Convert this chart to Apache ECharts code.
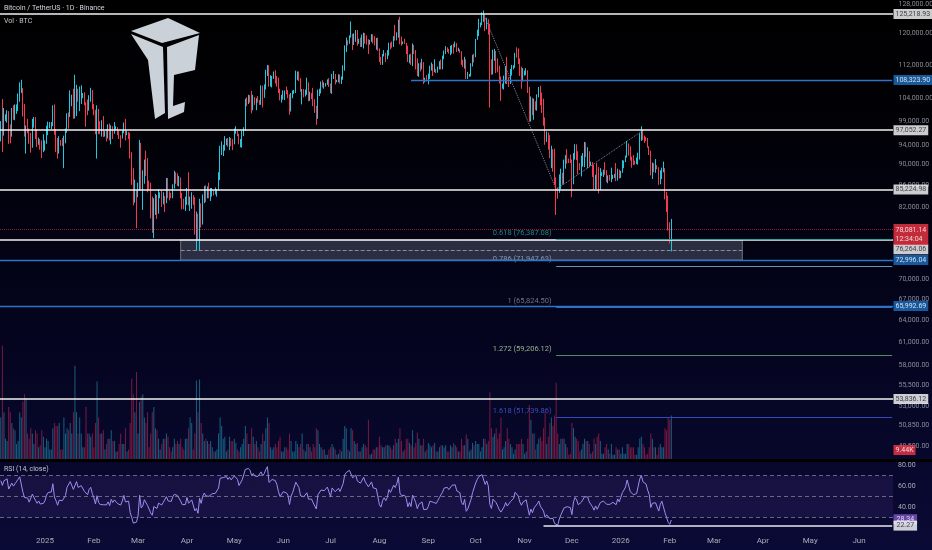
<!DOCTYPE html>
<html><head><meta charset="utf-8">
<script src="https://cdn.jsdelivr.net/npm/echarts@6/dist/echarts.min.js"></script>
<style>
html,body{margin:0;padding:0;width:932px;height:550px;overflow:hidden;background:linear-gradient(to bottom,#000000 0%,#010107 25%,#04041e 60%,#0a0a36 100%);}
#c{width:932px;height:550px;}
</style></head><body><div id="c"></div>
<script>
// ---------- DATA (prices in thousands USD, volumes in thousands BTC) ----------
const startDate = [2024, 11, 4];          // first category: 2024-12-04
const totalDays = 566;                     // categories through late Jun 2026
const preCloses = [90.5,92.3,94.3,98.3,98.9,97.7,98.0,93.0,91.9,95.9,95.6,97.4,96.4,97.2,95.8,96.0];
const closes = [
98.7,97.0,99.9,99.9,101.1,97.4,96.6,101.2,100.0,101.4,101.4,104.3,106.1,106.1,100.2,97.5,97.8,97.3,95.2,94.9,98.7,99.4,95.8,94.2,95.2,93.6,92.8,93.6,
94.6,97.0,98.1,98.2,98.3,102.2,96.9,95.0,92.5,94.7,94.6,94.5,94.5,96.5,100.5,99.9,104.1,104.6,101.3,102.3,106.1,103.7,104.0,104.7,104.8,102.6,102.1,101.3,103.7,104.7,102.4,
100.6,97.7,101.3,97.8,96.6,96.6,96.5,96.5,96.4,97.4,95.8,97.9,96.6,97.5,97.6,96.1,95.8,95.5,96.6,98.3,96.1,96.6,96.3,91.6,88.7,84.3,84.7,84.4,
86.1,94.3,86.1,87.2,90.6,89.9,86.7,86.2,80.7,78.5,82.9,83.7,81.1,84.0,84.3,82.6,84.0,82.7,86.8,84.2,84.0,83.8,86.1,87.5,87.4,86.9,87.2,84.4,82.6,82.3,82.5,
85.2,82.5,83.1,83.8,83.5,78.4,79.2,76.3,82.6,79.6,83.4,85.3,83.7,84.5,83.6,84.0,84.9,84.4,85.1,85.2,87.5,93.4,93.7,93.9,94.6,94.6,93.8,95.0,94.3,94.2,
96.5,96.9,95.9,94.3,94.7,96.8,97.0,103.2,102.9,104.6,104.1,102.8,104.1,103.5,103.7,103.5,103.1,106.5,105.6,106.8,109.6,111.7,107.3,107.8,109.0,109.4,108.9,107.8,105.6,103.9,104.6,
105.7,105.8,105.4,104.7,101.5,104.3,105.6,105.7,110.3,110.3,108.6,105.7,106.1,105.4,105.6,106.8,104.6,104.9,104.6,103.3,102.1,100.9,105.4,105.9,107.3,106.9,107.1,107.3,108.4,107.1,
105.7,108.8,109.6,107.9,108.2,109.2,108.3,108.9,111.3,115.9,117.5,117.4,119.1,119.8,117.7,118.8,119.3,117.8,117.9,117.3,117.4,119.9,118.8,118.4,117.6,117.9,119.4,118.0,117.8,117.8,115.8,
113.3,112.5,114.2,115.0,114.1,115.0,117.5,116.7,116.5,119.3,118.7,120.2,123.3,118.3,117.4,117.5,117.4,116.3,112.9,114.3,112.5,116.9,115.4,113.5,110.1,111.8,111.3,112.6,108.4,108.8,108.2,
109.3,111.2,111.7,110.7,110.7,110.2,111.1,112.1,111.5,113.9,115.5,116.1,115.9,115.3,115.4,116.8,116.5,117.1,115.7,115.7,115.3,112.7,112.0,113.3,109.0,109.6,109.6,112.1,114.4,114.0,
118.6,120.5,122.3,122.4,123.5,124.7,121.4,123.3,121.7,113.2,110.6,115.2,115.3,113.0,110.8,108.2,106.5,107.2,108.7,110.6,108.5,107.6,110.1,111.0,111.6,114.6,114.1,112.9,110.0,108.3,109.6,
110.1,110.5,106.6,101.5,103.9,101.3,103.3,102.3,104.7,106.0,102.9,101.7,99.7,94.6,95.6,94.3,92.2,92.9,91.6,86.6,85.1,84.7,86.8,88.3,87.4,90.5,91.3,90.9,90.8,90.4,
86.3,91.3,93.4,92.1,89.4,89.3,90.4,90.6,92.7,92.0,92.5,90.3,90.3,88.2,86.4,87.8,86.1,85.5,88.1,88.3,88.6,88.5,87.4,87.6,87.3,87.3,87.8,87.9,87.1,88.4,87.6,
88.7,89.9,90.6,91.5,93.9,93.7,91.3,91.0,90.5,90.4,90.8,91.1,95.4,97.0,95.6,95.5,95.1,93.7,92.6,88.3,89.5,89.4,89.6,89.5,86.6,88.3,89.2,89.2,84.6,84.1,78.6,
76.9,78.1];
const highs = [
99.0,103.9,101.9,100.5,101.4,101.2,98.3,101.9,102.5,102.7,102.7,105.2,107.8,108.4,106.5,102.8,98.1,99.5,97.4,96.5,99.5,99.9,99.9,97.3,95.5,95.2,94.9,96.2,
94.9,98.0,98.9,98.8,98.8,102.5,102.7,97.3,95.4,95.8,95.0,95.4,95.9,97.4,100.7,100.9,105.9,104.9,106.3,109.6,107.2,106.3,106.8,107.1,105.3,105.5,103.2,103.8,104.8,106.5,106.0,
102.8,101.5,102.5,101.7,99.0,99.2,100.1,96.9,97.3,98.3,98.5,98.1,97.2,98.8,97.9,97.7,97.0,96.0,97.0,98.7,99.5,96.9,96.7,96.5,92.5,89.3,87.1,85.1,
86.5,95.0,94.4,88.9,91.0,92.8,91.3,86.9,86.5,83.9,83.6,84.4,84.2,85.3,84.7,85.0,84.7,83.9,87.4,87.4,84.9,84.6,86.2,88.8,88.5,88.3,87.8,87.5,84.6,83.5,83.9,
85.5,88.5,83.9,84.7,84.2,83.8,81.2,80.8,83.5,82.7,84.3,85.9,86.0,85.8,86.5,85.5,85.5,85.0,85.6,85.3,88.5,93.8,94.7,94.0,95.8,95.3,95.4,95.6,95.4,95.2,
97.4,97.9,96.9,96.3,95.2,97.0,97.7,104.0,104.3,104.9,104.8,105.8,104.9,104.4,104.1,104.6,103.7,107.1,107.0,107.3,110.8,112.0,111.9,109.5,109.3,110.4,110.7,109.3,108.9,106.3,104.9,
105.9,105.9,106.8,106.0,105.0,105.3,105.9,106.0,110.6,110.4,110.4,108.8,106.2,106.2,106.1,108.9,107.8,105.6,105.3,106.5,103.9,102.4,106.1,106.3,108.0,108.3,107.8,107.6,108.5,108.8,
107.5,109.8,110.5,109.8,108.4,109.7,109.7,109.2,111.9,116.9,118.9,118.2,119.5,123.2,119.9,120.0,120.9,120.9,118.6,118.9,119.7,120.2,120.1,119.5,118.5,118.3,119.8,119.8,119.3,118.8,118.9,
116.1,114.0,114.7,115.7,115.0,115.7,117.6,117.6,117.9,119.3,122.3,120.3,123.7,124.5,119.2,117.9,118.6,117.5,116.8,114.6,114.8,117.4,117.0,115.7,113.6,112.4,112.6,113.5,112.7,108.9,109.5,
109.9,111.8,112.6,112.2,113.4,111.0,111.6,112.9,113.3,114.3,115.6,116.7,116.4,116.0,116.8,117.0,117.3,117.9,117.5,116.3,115.9,115.4,113.3,114.0,113.4,110.3,109.8,112.4,114.5,114.8,
118.6,121.0,123.9,122.9,125.7,126.2,125.1,124.2,123.8,122.6,113.4,115.8,116.0,115.5,113.6,111.8,109.2,107.5,109.4,111.7,114.0,109.0,111.0,112.0,111.9,115.0,116.4,116.1,113.6,111.6,111.2,
110.6,111.2,110.7,106.7,104.5,104.2,104.0,103.4,105.0,106.7,107.0,105.4,104.0,99.8,96.8,96.6,96.0,93.8,93.1,93.2,87.5,85.6,88.1,89.2,88.4,91.0,91.9,93.1,91.2,92.0,
91.0,92.3,94.1,94.1,92.7,90.3,91.8,92.3,94.6,94.5,93.5,92.7,90.6,90.5,90.0,88.0,90.3,89.5,89.3,88.5,89.0,90.5,88.9,87.9,88.0,89.4,88.0,88.2,90.3,89.2,89.0,
88.8,90.9,90.8,91.8,94.8,94.3,93.6,91.6,91.9,90.8,91.4,92.4,96.4,97.9,97.2,95.9,95.6,95.4,93.6,92.8,90.4,90.3,91.1,89.9,89.2,88.9,89.4,90.6,89.3,84.8,84.0,
79.3,79.9];
const lows = [
94.7,92.5,95.9,99.0,98.7,94.2,94.3,95.7,99.3,99.2,100.6,101.2,103.3,105.3,100.0,95.7,92.2,96.4,94.2,92.4,93.4,97.6,95.2,93.5,94.0,93.0,91.3,92.5,
92.8,94.2,96.0,97.5,97.3,97.9,96.1,92.5,91.2,92.2,93.8,93.7,89.3,94.3,96.5,97.4,99.9,102.3,99.5,99.6,100.1,103.3,101.2,102.8,104.1,102.5,97.8,100.3,101.3,103.3,101.6,
100.3,96.2,91.2,96.2,96.2,95.7,95.6,95.7,94.7,95.3,94.9,94.1,95.2,96.3,97.1,96.0,95.2,93.4,95.3,96.4,94.9,96.0,95.2,91.2,86.1,82.3,82.8,78.3,
83.8,85.0,85.1,81.5,86.3,87.8,84.7,85.2,80.0,77.5,76.6,80.6,79.9,80.8,83.6,82.0,82.5,81.1,82.7,83.6,83.2,83.6,83.6,85.4,86.3,85.9,85.8,83.6,81.6,81.6,81.3,
82.4,82.3,81.3,81.7,82.4,77.2,74.5,76.2,74.6,78.4,78.9,82.7,82.9,83.6,83.6,83.1,83.9,84.1,84.3,83.9,85.1,87.0,91.9,91.7,92.8,93.9,93.6,92.9,93.7,92.9,
94.1,96.3,95.8,94.1,93.5,93.4,95.8,96.9,102.3,102.8,103.1,100.7,101.4,102.6,101.4,103.1,102.6,102.6,102.0,104.2,106.1,109.3,106.8,106.8,106.6,108.6,107.5,106.8,105.3,103.6,103.1,
103.8,103.7,105.0,104.1,100.4,101.1,104.1,105.1,105.3,108.3,108.1,105.6,102.7,104.3,104.5,104.9,103.4,103.5,103.9,102.3,100.8,98.2,99.5,104.6,105.2,106.6,106.3,106.8,107.2,106.7,
105.3,105.1,108.6,107.3,107.8,107.8,107.5,107.4,108.4,110.6,115.2,116.9,117.3,118.9,115.7,117.0,117.8,116.8,117.3,116.5,116.5,116.1,117.3,117.1,114.7,117.1,117.8,117.4,116.9,115.8,115.5,
112.7,112.0,112.0,114.1,112.7,113.4,114.3,115.9,116.3,116.5,118.1,118.2,118.9,117.2,116.8,117.2,117.3,114.7,112.7,112.4,112.0,111.7,114.7,110.9,109.3,109.1,110.4,110.9,107.4,107.8,108.0,
107.3,108.6,110.6,109.3,110.2,110.0,110.1,110.9,110.9,110.9,113.4,114.7,115.2,114.8,114.4,114.8,114.8,116.4,115.2,115.4,115.0,112.0,111.5,111.1,108.6,108.6,109.1,109.2,111.6,112.6,
113.9,118.3,119.3,121.6,122.2,123.1,120.6,121.1,119.7,102.0,109.6,109.7,113.0,110.0,110.2,107.5,103.5,106.3,106.1,107.5,107.4,106.7,107.4,109.4,110.9,111.3,113.8,112.2,109.3,106.3,108.0,
109.4,109.5,105.3,98.9,98.9,100.3,99.3,101.4,101.3,104.3,102.5,100.8,98.0,94.0,94.6,93.0,91.3,89.3,88.6,86.1,80.6,83.5,84.6,85.3,86.1,86.3,89.2,90.2,90.3,90.3,
83.8,86.2,91.0,90.9,88.1,88.9,87.7,89.6,89.5,91.5,89.3,89.5,89.8,87.6,85.2,85.3,85.3,84.5,85.1,87.8,87.6,88.0,86.6,86.4,86.9,86.6,87.2,87.4,86.8,86.9,87.3,
87.4,88.4,89.3,90.5,91.4,91.8,90.8,89.4,89.9,90.0,90.1,90.0,91.0,94.8,95.0,94.4,94.8,93.4,91.9,87.9,87.2,88.5,88.4,89.1,86.1,86.2,87.2,88.5,83.4,81.1,77.9,
75.7,74.4];
const volumes = [
40,108,45,20,18,50,45,35,30,28,15,18,45,40,55,62,58,25,20,30,25,15,28,25,12,14,28,22,
12,20,18,10,10,30,35,32,32,35,10,10,40,25,30,28,35,25,45,89,45,25,40,25,12,12,50,25,25,22,25,
12,35,74,40,25,25,28,10,15,20,20,28,18,18,8,8,15,25,15,15,30,8,10,35,77,62,45,83,
25,55,60,62,40,35,45,12,25,45,50,30,28,20,10,15,20,20,25,22,12,8,12,20,15,18,15,20,12,10,20,
20,30,40,35,10,25,75,45,76,35,25,18,20,18,15,18,12,8,8,10,25,40,32,20,22,8,10,22,18,18,
20,16,10,8,12,15,20,32,25,15,15,30,22,15,18,12,8,15,25,18,30,40,35,12,10,12,15,12,18,22,8,
8,12,12,10,25,18,8,8,18,15,12,15,25,10,8,15,15,12,8,15,12,30,28,15,12,10,10,5,5,10,
12,15,12,10,5,6,10,8,20,32,30,10,8,30,28,18,15,16,8,8,12,15,14,12,38,5,6,10,10,12,12,
22,14,12,12,14,14,14,12,10,14,20,16,20,30,18,8,10,20,20,16,14,28,12,16,26,20,14,14,20,8,10,
16,14,12,14,16,8,8,12,14,14,12,14,8,8,14,12,16,14,12,8,8,20,14,14,24,20,8,10,16,14,
18,15,15,8,12,20,20,15,18,64,30,22,25,30,20,25,40,10,12,18,30,20,15,12,6,10,15,15,15,20,15,
6,8,20,52,38,25,25,10,15,20,22,18,30,45,15,22,35,40,32,42,73,25,15,20,20,20,15,12,5,6,
35,30,22,20,18,8,10,15,20,18,18,15,6,8,20,15,22,25,18,6,6,12,15,10,6,15,5,5,12,10,10,
6,12,6,6,15,15,12,12,12,5,5,12,20,22,15,12,5,6,12,25,20,12,12,5,12,15,12,12,30,28,40,
38,42];
const priceTicks = [128000,120000,112000,104000,99000,94000,90000,86000,82000,70000,67000,64000,61000,58000,55500,53000,50850,48500];
const whiteLevels = [125218.93, 97052.27, 85224.98, 76264.06, 53836.12];
const blueLevels = [72996.04, 65992.69];
const blueLevelFrom = ['2025-08-21', 108323.90];
const lastPrice = 78081.14;
const countdown = '12:34:04';
const volumeTag = 9.44;
const fibRatios = [0.618, 0.786, 1, 1.272, 1.618];
const fibPrices = [76387.08, 71947.63, 65824.50, 59206.12, 51739.86];
const fibFrom = '2025-11-21';
const fibTrendDates = ['2025-10-06', '2025-11-21', '2026-01-14'];
const fibTrendPrices = [125218.93, 85224.98, 96767];
const boxDates = ['2025-03-28', '2026-03-19'];
const boxPrices = [76264.06, 74611, 72996.04];
const rsiLevels = [70, 50, 30];
const rsiTags = [28.34, 22.27];
const rsiLineFrom = '2025-11-13';
const rsiLength = 14;

// ---------- build ----------
const cats = [];
for (let i = 0; i < totalDays; i++) {
  const d = new Date(Date.UTC(startDate[0], startDate[1], startDate[2] + i));
  cats.push(d.toISOString().slice(0, 10));
}
const lastCat = cats[cats.length - 1];
const monthNames = ['Jan','Feb','Mar','Apr','May','Jun','Jul','Aug','Sep','Oct','Nov','Dec'];
const fmt = v => v.toLocaleString('en-US', {minimumFractionDigits: 2, maximumFractionDigits: 2});

const opens = closes.map((c, i) => i === 0 ? preCloses[preCloses.length - 1] : closes[i - 1]);
const ohlc = closes.map((c, i) => {
  const o = opens[i];
  const h = Math.max(highs[i], o, c), l = Math.min(lows[i], o, c);
  return [o * 1000, c * 1000, l * 1000, h * 1000];
});
const UP = '#26c6da', DOWN = '#ef3b53';
const volData = volumes.map((v, i) => ({
  value: v,
  itemStyle: {color: closes[i] >= opens[i] ? 'rgba(38,170,200,0.55)' : 'rgba(200,40,85,0.6)'}
}));

// RSI (Wilder) from closes
const allC = preCloses.concat(closes);
const rsiAll = new Array(allC.length).fill(null);
let ag = 0, al = 0;
for (let i = 1; i < allC.length; i++) {
  const ch = allC[i] - allC[i - 1];
  const g = Math.max(ch, 0), l = Math.max(-ch, 0);
  if (i <= rsiLength) {
    ag += g / rsiLength; al += l / rsiLength;
    if (i === rsiLength) rsiAll[i] = 100 - 100 / (1 + ag / al);
  } else {
    ag = (ag * (rsiLength - 1) + g) / rsiLength;
    al = (al * (rsiLength - 1) + l) / rsiLength;
    rsiAll[i] = 100 - 100 / (1 + ag / al);
  }
}
const rsi = rsiAll.slice(preCloses.length);

const FONT = "Roboto,'DejaVu Sans',sans-serif";
const AXC = '#a9acb6';
const AX_FS = 7;

const hLines = [];
whiteLevels.forEach(v => hLines.push({yAxis: v, lineStyle: {color: '#f2f2f2', width: 1.6, type: 'solid'}}));
blueLevels.forEach(v => hLines.push({yAxis: v, lineStyle: {color: '#2f74c8', width: 1.4, type: 'solid'}}));
hLines.push({yAxis: lastPrice, lineStyle: {color: '#f23645', width: 1, type: 'dotted', opacity: 0.6}});
hLines.push([{coord: blueLevelFrom, lineStyle: {color: '#2f74c8', width: 1.4, type: 'solid'}}, {coord: [lastCat, blueLevelFrom[1]]}]);
const fibLineColors = ['#26a69a', '#6f8fb0', '#2f6fc0', '#4f8f5f', '#3446c0'];
const fibLabelColors = ['#2fa59a', '#8fb4d8', '#8a8d96', '#b8dca8', '#4a5fe0'];
fibPrices.forEach((p, i) => hLines.push([{coord: [fibFrom, p], lineStyle: {color: fibLineColors[i], width: 1.2, type: 'solid'}}, {coord: [lastCat, p]}]));
hLines.push([{coord: [boxDates[0], boxPrices[1]], lineStyle: {color: '#8a8d99', width: 1, type: 'dashed'}}, {coord: [boxDates[1], boxPrices[1]]}]);

const tickLabelData = priceTicks.map(v => [0, v]);
const tagData = [];
whiteLevels.forEach(v => tagData.push({value: [0, v], label: {backgroundColor: '#ffffff', color: '#131722', offset: v === 76264.06 ? [0, 9] : [0, 0]}}));
[blueLevelFrom[1]].concat(blueLevels).forEach(v => tagData.push({value: [0, v], label: {backgroundColor: '#1e6fbf', color: '#ffffff'}}));
tagData.push({value: [0, lastPrice], label: {backgroundColor: '#f23645', color: '#ffffff', lineHeight: 9, offset: [0, 5],
  formatter: () => fmt(lastPrice) + '\n' + countdown}});

const chart = echarts.init(document.getElementById('c'), null, {renderer: 'canvas'});
chart.setOption({
  animation: false,
  backgroundColor: 'transparent',
  textStyle: {fontFamily: FONT},
  grid: [
    {left: 0, top: 0, width: 893, height: 460},
    {left: 0, top: 462, width: 893, height: 66},
    {left: 893, top: 0, width: 39, height: 460},
    {left: 893, top: 462, width: 39, height: 66}
  ],
  xAxis: [
    {type: 'category', gridIndex: 0, data: cats, boundaryGap: true, axisLine: {show: false}, axisTick: {show: false}, axisLabel: {show: false}, splitLine: {show: false}},
    {type: 'category', gridIndex: 1, data: cats, boundaryGap: true, axisLine: {show: false}, axisTick: {show: false}, splitLine: {show: false},
      axisLabel: {show: true, color: AXC, fontSize: 8, fontFamily: FONT, margin: 9, hideOverlap: false,
        interval: (idx, val) => val.slice(8) === '01',
        formatter: val => { const m = +val.slice(5, 7); return m === 1 ? val.slice(0, 4) : monthNames[m - 1]; }}},
    {type: 'value', gridIndex: 2, min: 0, max: 1, show: false},
    {type: 'value', gridIndex: 3, min: 0, max: 1, show: false}
  ],
  yAxis: [
    {type: 'log', logBase: 10, gridIndex: 0, min: 47089, max: 129128, show: false, splitLine: {show: false}},
    {type: 'value', gridIndex: 0, min: 0, max: 434, show: false, splitLine: {show: false}},
    {type: 'value', gridIndex: 1, min: 20, max: 82.9, interval: 20, position: 'right', splitLine: {show: false}, axisLine: {show: false}, axisTick: {show: false},
      axisLabel: {inside: false, margin: 5, color: AXC, fontSize: AX_FS, fontFamily: FONT, showMinLabel: false, showMaxLabel: false, formatter: v => v.toFixed(2)}},
    {type: 'log', logBase: 10, gridIndex: 2, min: 47089, max: 129128, show: false},
    {type: 'value', gridIndex: 2, min: 0, max: 434, show: false},
    {type: 'value', gridIndex: 3, min: 20, max: 82.9, show: false}
  ],
  graphic: [
    {type: 'rect', left: 0, top: 459, shape: {width: 932, height: 3}, style: {fill: '#000'}, z: 50},
    {type: 'text', left: 4, top: 5, style: {text: 'Bitcoin / TetherUS · 1D · Binance', fill: '#d1d4dc', font: "7px " + FONT}, z: 60},
    {type: 'text', left: 4, top: 18, style: {text: 'Vol · BTC', fill: '#c0c3cc', font: "7px " + FONT}, z: 60},
    {type: 'text', left: 4, top: 466, style: {text: 'RSI (14, close)', fill: '#c0c3cc', font: "7px " + FONT}, z: 60},
    {type: 'polygon', shape: {points: [[131,31],[168,18],[200,33],[162,43]]}, style: {fill: '#cbd1d8'}, z: 40},
    {type: 'polygon', shape: {points: [[131,34],[163,47],[165,113],[155,119],[148,60]]}, style: {fill: '#cbd1d8'}, z: 40},
    {type: 'polygon', shape: {points: [[167,47],[199,35],[195,70],[174,75],[173,106],[185,102],[184,112],[168,119]]}, style: {fill: '#cbd1d8'}, z: 40}
  ],
  series: [
    {type: 'bar', name: 'Vol', xAxisIndex: 0, yAxisIndex: 1, data: volData, barWidth: 1, z: 1, silent: true},
    {type: 'candlestick', name: 'BTCUSDT', xAxisIndex: 0, yAxisIndex: 0, data: ohlc, barWidth: 1.2, z: 3,
      itemStyle: {color: UP, color0: DOWN, borderColor: UP, borderColor0: DOWN, borderWidth: 1},
      markLine: {silent: true, symbol: 'none', label: {show: false}, animation: false, data: hLines},
      markArea: {silent: true, itemStyle: {color: 'rgba(110,115,140,0.38)', borderColor: 'rgba(170,172,180,0.6)', borderWidth: 1},
        data: [[{coord: [boxDates[0], boxPrices[0]]}, {coord: [boxDates[1], boxPrices[2]]}]]}},
    {type: 'line', name: 'fibTrend', xAxisIndex: 0, yAxisIndex: 0, symbol: 'none', z: 2,
      data: fibTrendDates.map((d, i) => [d, fibTrendPrices[i]]),
      lineStyle: {color: '#8a8d96', width: 1, type: 'dotted'}},
    {type: 'scatter', name: 'fibLabels', xAxisIndex: 0, yAxisIndex: 0, symbol: 'circle', symbolSize: 1, clip: false, z: 4,
      itemStyle: {color: 'transparent'},
      data: fibPrices.map((p, i) => ({value: [fibFrom, p], label: {color: fibLabelColors[i], offset: i === 1 ? [0, -8] : [0, -6]}})),
      label: {show: true, position: 'left', distance: 4, fontSize: 7.5, fontFamily: FONT,
        formatter: p => fibRatios[p.dataIndex] + ' (' + fmt(fibPrices[p.dataIndex]) + ')'}},
    {type: 'scatter', name: 'priceTicks', xAxisIndex: 2, yAxisIndex: 3, symbol: 'circle', symbolSize: 1, clip: false, z: 4,
      itemStyle: {color: 'transparent'}, data: tickLabelData,
      label: {show: true, position: 'right', distance: 5, color: AXC, fontSize: AX_FS, fontFamily: FONT, formatter: p => fmt(p.value[1])}},
    {type: 'scatter', name: 'priceTags', xAxisIndex: 2, yAxisIndex: 3, symbol: 'circle', symbolSize: 1, clip: false, z: 6,
      itemStyle: {color: 'transparent'}, data: tagData,
      label: {show: true, position: 'right', distance: 0, fontSize: AX_FS, fontFamily: FONT, padding: [2, 2, 1, 2], formatter: p => fmt(p.value[1])}},
    {type: 'scatter', name: 'volTag', xAxisIndex: 2, yAxisIndex: 4, symbol: 'circle', symbolSize: 1, clip: false, z: 7,
      itemStyle: {color: 'transparent'}, data: [[0, volumeTag]],
      label: {show: true, position: 'right', distance: 0, fontSize: AX_FS, fontFamily: FONT, padding: [2, 2, 1, 2], backgroundColor: '#f23645', color: '#fff',
        formatter: p => p.value[1].toFixed(2) + 'K'}},
    {type: 'line', name: 'RSI', xAxisIndex: 1, yAxisIndex: 2, data: rsi, symbol: 'none', z: 3,
      lineStyle: {color: '#9d8ff0', width: 1},
      markLine: {silent: true, symbol: 'none', label: {show: false}, animation: false,
        data: rsiLevels.map(v => ({yAxis: v, lineStyle: {color: 'rgba(140,143,156,0.7)', type: [4, 3], width: 1}}))
          .concat([[{coord: [rsiLineFrom, rsiTags[1]], lineStyle: {color: '#e8e8f0', width: 1.5, type: 'solid'}}, {coord: [lastCat, rsiTags[1]]}]])},
      markArea: {silent: true, itemStyle: {color: 'rgba(126,87,194,0.13)'}, data: [[{yAxis: rsiLevels[2]}, {yAxis: rsiLevels[0]}]]}},
    {type: 'scatter', name: 'rsiTags', xAxisIndex: 3, yAxisIndex: 5, symbol: 'circle', symbolSize: 1, clip: false, z: 7,
      itemStyle: {color: 'transparent'},
      data: [{value: [0, rsiTags[0]], label: {backgroundColor: '#7e57c2', color: '#fff'}}, {value: [0, rsiTags[1]], label: {backgroundColor: '#ffffff', color: '#131722'}}],
      label: {show: true, position: 'right', distance: 0, fontSize: AX_FS, fontFamily: FONT, padding: [2, 3, 1, 3], formatter: p => p.value[1].toFixed(2)}}
  ]
});
</script></body></html>
